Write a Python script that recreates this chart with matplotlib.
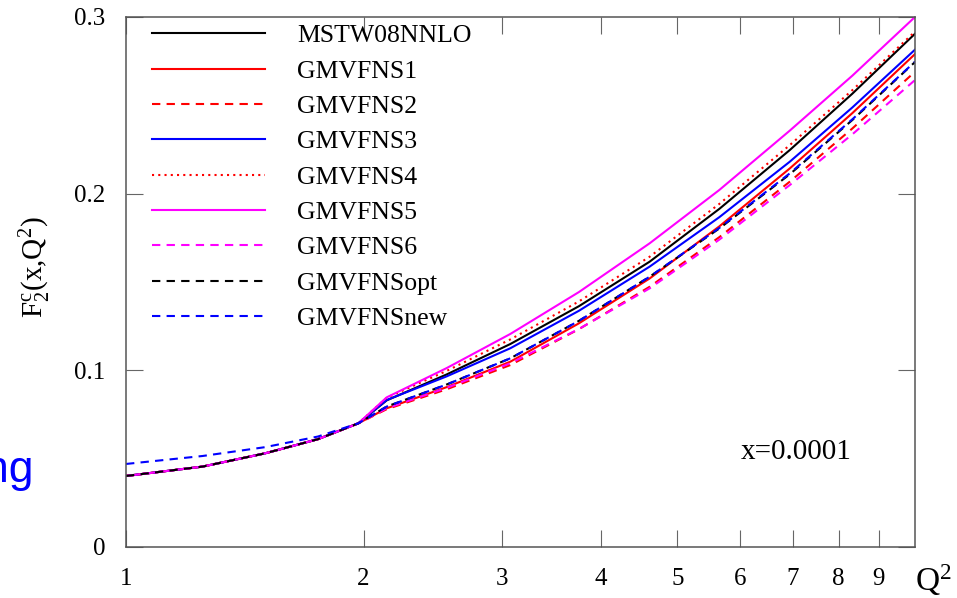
import numpy as np
import matplotlib
matplotlib.use('Agg')
import matplotlib.pyplot as plt

plt.rcParams['font.family'] = ['Liberation Serif', 'DejaVu Serif']
plt.rcParams['mathtext.fontset'] = 'custom'
plt.rcParams['mathtext.rm'] = 'Liberation Serif'
plt.rcParams['mathtext.it'] = 'Liberation Serif:italic'

# Q^2 grid (GeV^2)
q2 = [1.0, 1.25, 1.5, 1.75, 1.97, 2.14, 2.55, 3.07, 3.75, 4.61, 5.65,
      6.94, 8.33, 10.0]

# below the charm threshold all schemes share one curve
low = [0.0402, 0.0455, 0.0530, 0.0610, 0.0700]

f2_mstw = low + [0.0830, 0.0977, 0.1149, 0.1363, 0.1615, 0.1914, 0.2247, 0.2566, 0.2905]
f2_gm1 = low + [0.0785, 0.0905, 0.1049, 0.1266, 0.1520, 0.1815, 0.2143, 0.2456, 0.2790]
f2_gm2 = low + [0.0780, 0.0893, 0.1030, 0.1233, 0.1473, 0.1754, 0.2068, 0.2369, 0.2690]
f2_gm3 = low + [0.0832, 0.0966, 0.1125, 0.1337, 0.1587, 0.1867, 0.2181, 0.2488, 0.2815]
f2_gm4 = low + [0.0845, 0.0997, 0.1175, 0.1390, 0.1643, 0.1942, 0.2275, 0.2586, 0.2917]
f2_gm5 = low + [0.0847, 0.1013, 0.1206, 0.1443, 0.1719, 0.2021, 0.2357, 0.2668, 0.3000]
f2_gm6 = low + [0.0785, 0.0901, 0.1040, 0.1234, 0.1464, 0.1740, 0.2049, 0.2336, 0.2643]
f2_opt = low + [0.0795, 0.0920, 0.1068, 0.1280, 0.1530, 0.1803, 0.2110, 0.2417, 0.2745]
f2_new = [0.0470, 0.0515, 0.0565, 0.0625, 0.0700,
          0.0795, 0.0920, 0.1068, 0.1280, 0.1530, 0.1806, 0.2115, 0.2421, 0.2747]

labels = ['MSTW08NNLO', 'GMVFNS1', 'GMVFNS2', 'GMVFNS3', 'GMVFNS4',
          'GMVFNS5', 'GMVFNS6', 'GMVFNSopt', 'GMVFNSnew']

fig = plt.figure(figsize=(9.57, 5.98), dpi=100)
ax = fig.add_axes([0.1317, 0.0853, 0.8244, 0.8863])

lw = 1.5
dash = (0, (4, 3))
dot = (0, (1, 2))
ax.plot(q2, f2_mstw, color='black', lw=lw, label=labels[0])
ax.plot(q2, f2_gm1, color='#ff0000', lw=lw, label=labels[1])
ax.plot(q2, f2_gm2, color='#ff0000', lw=lw, ls=dash, label=labels[2])
ax.plot(q2, f2_gm3, color='#0000ff', lw=lw, label=labels[3])
ax.plot(q2, f2_gm4, color='#ff0000', lw=lw, ls=dot, label=labels[4])
ax.plot(q2, f2_gm5, color='#ff00ff', lw=lw, label=labels[5])
ax.plot(q2, f2_gm6, color='#ff00ff', lw=lw, ls=dash, label=labels[6])
ax.plot(q2, f2_opt, color='black', lw=lw, ls=dash, label=labels[7])
ax.plot(q2, f2_new, color='#0000ff', lw=lw, ls=dash, label=labels[8])

ax.set_xscale('log')
ax.set_xlim(1, 10)
ax.set_ylim(0, 0.3)
ax.set_xticks([1, 2, 3, 4, 5, 6, 7, 8, 9])
ax.set_xticklabels(['1', '2', '3', '4', '5', '6', '7', '8', '9'])
ax.xaxis.set_minor_locator(matplotlib.ticker.NullLocator())
ax.set_yticks([0, 0.1, 0.2, 0.3])
ax.set_yticklabels(['0', '0.1', '0.2', '0.3'])

for s in ax.spines.values():
    s.set_color('#555555')
    s.set_linewidth(1.1)
ax.tick_params(direction='in', length=12, width=0.8, color='#666666',
               top=True, right=True, labelsize=18, pad=15)

ax.set_ylabel(r'$\mathregular{F_2^c(x{,}Q^2)}$', fontsize=21)
ax.yaxis.set_label_coords(-0.093, 0.528)
ax.text(0.779, 0.166, 'x=0.0001', transform=ax.transAxes, fontsize=21)
fig.text(0.956, 0.012, r'$\mathregular{Q^2}$', fontsize=24, ha='left', va='baseline')

# fragment of slide text at the left edge
fig.text(0.035, 1 - 482 / 598, 'ng', color='#0000ff', fontsize=32,
         family='Liberation Sans', ha='right', va='baseline')

ax.legend(loc='upper left', bbox_to_anchor=(0.033, 0.986), frameon=False,
          fontsize=18.5, handlelength=4.4, handletextpad=1.25,
          labelspacing=0.48, borderpad=0, borderaxespad=0)

fig.savefig('out.png', dpi=100)
